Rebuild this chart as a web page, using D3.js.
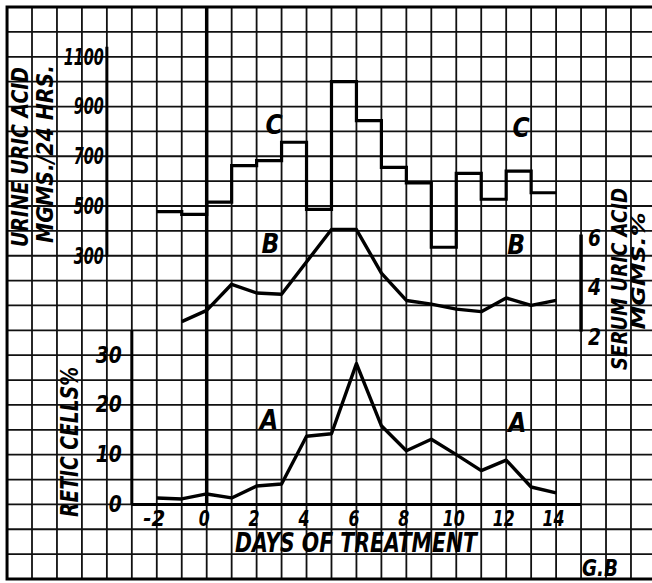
<!DOCTYPE html>
<html>
<head>
<meta charset="utf-8">
<script src="https://cdn.jsdelivr.net/npm/d3@7"></script>
<style>
  body { margin: 0; background: #fff; }
  svg text {
    font-family: 'DejaVu Sans Condensed', 'DejaVu Sans', sans-serif;
    font-weight: bold;
    font-style: oblique;
    fill: #000;
  }
</style>
</head>
<body>
<svg id="chart"></svg>
<script>
// A: reticulocytes (%), one reading per day
const reticDays = [-2, -1, 0, 1, 2, 3, 4, 5, 6, 7, 8, 9, 10, 11, 12, 13, 14];
const reticCells = [1.3, 1.1, 2.1, 1.3, 3.7, 4.1, 13.7, 14.2, 28.3, 15.8, 10.8, 13.1, 10.0, 6.8, 8.9, 3.5, 2.3];

// B: serum uric acid (mgms. %)
const serumDays = [-1, 0, 1, 2, 3, 5, 6, 7, 8, 9, 10, 11, 12, 13, 14];
const serumUric = [2.35, 2.8, 3.85, 3.5, 3.45, 6.05, 6.05, 4.3, 3.2, 3.05, 2.85, 2.75, 3.3, 3.0, 3.2];

// C: urine uric acid (mgms./24 hrs.), one 24h collection starting at each day
const urineDays = [-2, -1, 0, 1, 2, 3, 4, 5, 6, 7, 8, 9, 10, 11, 12, 13];
const urineUric = [477, 466, 515, 662, 682, 756, 486, 1000, 843, 655, 593, 334, 631, 527, 640, 553];
const urineLastDay = 14;

// tick labels
const dayTicks = [-2, 0, 2, 4, 6, 8, 10, 12, 14];
const reticTicks = [0, 10, 20, 30];
const serumTicks = [2, 4, 6];
const urineTicks = [300, 500, 700, 900, 1100];

class TreatmentChart {

    constructor(_config) {
        this.config = {
            parentElement: _config.parentElement,
            containerWidth: _config.containerWidth || 652,
            containerHeight: _config.containerHeight || 583
        }
        this.initVis();
    }

    initVis() {
        let vis = this;

        vis.svg = d3.select(vis.config.parentElement)
            .attr('width', vis.config.containerWidth)
            .attr('height', vis.config.containerHeight);

        // one grid column = one day
        vis.xScale = d3.scaleLinear().domain([0, 14]).range([206.7, 556.1]);
        // graph paper rows follow the retic scale (5 % per row)
        vis.yA = d3.scaleLinear().domain([0, 30]).range([504.4, 355.2]);
        vis.yB = d3.scaleLinear().domain([2, 6]).range([330.3, 230.8]);
        vis.yC = d3.scaleLinear().domain([300, 1100]).range([255.7, 56.7]);

        vis.gridG = vis.svg.append('g').attr('class', 'grid');
        vis.axisG = vis.svg.append('g').attr('class', 'axes');
        vis.dataG = vis.svg.append('g').attr('class', 'series');
        vis.labelG = vis.svg.append('g').attr('class', 'labels');
    }

    renderVis() {
        let vis = this;
        const x = vis.xScale, yA = vis.yA, yB = vis.yB, yC = vis.yC;
        const left = x(-8), top = yA(100), bottom = yA(-15), right = vis.config.containerWidth;

        // graph paper
        vis.gridG.selectAll('.vline')
            .data(d3.range(-7, 18))
            .join('line')
            .attr('class', 'vline')
            .attr('x1', d => x(d)).attr('x2', d => x(d))
            .attr('y1', top).attr('y2', bottom)
            .attr('stroke', '#111').attr('stroke-width', 1.8);

        vis.gridG.selectAll('.hline')
            .data(d3.range(-10, 100, 5))
            .join('line')
            .attr('class', 'hline')
            .attr('x1', left).attr('x2', right)
            .attr('y1', d => yA(d)).attr('y2', d => yA(d))
            .attr('stroke', '#111').attr('stroke-width', 1.8);

        // border
        vis.gridG.append('path')
            .attr('d', `M${right},${top}H${left}V${bottom}H${right}`)
            .attr('fill', 'none').attr('stroke', '#000').attr('stroke-width', 3);

        // axis lines
        const axisLines = [
            [x(-4), yC(1140), x(-4), yC(296), 3],
            [x(0), top, x(0), yA(0), 3.5],
            [x(-3), yA(35), x(-3), yA(0), 3],
            [x(-3), yA(0), x(15), yA(0), 3],
            [x(15), yB(5.85), x(15), yB(1.95), 3.5]
        ];
        vis.axisG.selectAll('.axis-line')
            .data(axisLines)
            .join('line')
            .attr('class', 'axis-line')
            .attr('x1', d => d[0]).attr('y1', d => d[1])
            .attr('x2', d => d[2]).attr('y2', d => d[3])
            .attr('stroke', '#000').attr('stroke-width', d => d[4]);

        // tick labels
        const styleTicks = (g, size, charW) => {
            g.select('.domain').remove();
            g.selectAll('.tick line').remove();
            g.selectAll('text')
                .attr('fill', '#000')
                .style('font-size', size + 'px')
                .attr('textLength', function() { return this.textContent.length * charW; })
                .attr('lengthAdjust', 'spacingAndGlyphs');
        };

        vis.axisG.append('g')
            .attr('transform', `translate(${x(-4) - 1},0)`)
            .call(d3.axisLeft(yC).tickValues(urineTicks).tickFormat(d => d).tickSize(0).tickPadding(2))
            .call(g => styleTicks(g, 23, 10));

        vis.axisG.append('g')
            .attr('transform', `translate(${x(-3) - 8},0)`)
            .call(d3.axisLeft(yA).tickValues(reticTicks).tickFormat(d => d).tickSize(0).tickPadding(2))
            .call(g => styleTicks(g, 23, 13))
            .selectAll('text').attr('dy', '0.3em');

        vis.axisG.append('g')
            .attr('transform', `translate(${x(15) + 5},7)`)
            .call(d3.axisRight(yB).tickValues(serumTicks).tickFormat(d => d).tickSize(0).tickPadding(2))
            .call(g => styleTicks(g, 23, 13));

        vis.axisG.append('g')
            .attr('transform', `translate(-3,${yA(0) + 5})`)
            .call(d3.axisBottom(x).tickValues(dayTicks).tickFormat(d => d).tickSize(0).tickPadding(2))
            .call(g => styleTicks(g, 21, 11));

        // series C: step line
        const urinePts = urineDays.map((d, i) => [d, urineUric[i]]);
        urinePts.push([urineLastDay, urineUric[urineUric.length - 1]]);
        vis.dataG.append('path')
            .datum(urinePts)
            .attr('fill', 'none').attr('stroke', '#000').attr('stroke-width', 3.2)
            .attr('stroke-linejoin', 'miter')
            .attr('d', d3.line().curve(d3.curveStepAfter).x(d => x(d[0])).y(d => yC(d[1])));

        // series B
        vis.dataG.append('path')
            .datum(serumDays.map((d, i) => [d, serumUric[i]]))
            .attr('fill', 'none').attr('stroke', '#000').attr('stroke-width', 3.4)
            .attr('stroke-linejoin', 'round')
            .attr('d', d3.line().x(d => x(d[0])).y(d => yB(d[1])));

        // series A
        vis.dataG.append('path')
            .datum(reticDays.map((d, i) => [d, reticCells[i]]))
            .attr('fill', 'none').attr('stroke', '#000').attr('stroke-width', 3.4)
            .attr('stroke-linejoin', 'round')
            .attr('d', d3.line().x(d => x(d[0])).y(d => yA(d[1])));

        // series letters
        const letters = [
            ['C', 2.7, yC(825)], ['C', 12.6, yC(815)],
            ['B', 2.55, yB(5.5)], ['B', 12.4, yB(5.45)],
            ['A', 2.5, yA(17)], ['A', 12.45, yA(16.4)]
        ];
        vis.labelG.selectAll('.letter')
            .data(letters)
            .join('text')
            .attr('class', 'letter')
            .attr('x', d => x(d[1])).attr('y', d => d[2])
            .attr('text-anchor', 'middle').attr('dy', '0.36em')
            .style('font-size', '26px')
            .text(d => d[0]);

        // axis titles
        const titles = [
            ['URINE URIC ACID', 20, 157, 180, 23, -90],
            ['MGMS./24 HRS.', 45, 154, 178, 23, -90],
            ['RETIC CELLS%', 69, 442, 150, 25, -90],
            ['SERUM URIC ACID', 619, 279, 182, 22, -90],
            ['MGMS.%', 638, 271, 117, 19, -90],
            ['DAYS OF TREATMENT', 356, 543, 242, 26, 0],
            ['G.B', 600, 568, 36, 23, 0]
        ];
        vis.labelG.selectAll('.title')
            .data(titles)
            .join('text')
            .attr('class', 'title')
            .attr('transform', d => `translate(${d[1]},${d[2]}) rotate(${d[5]})`)
            .attr('text-anchor', 'middle').attr('dy', '0.36em')
            .attr('textLength', d => d[3]).attr('lengthAdjust', 'spacingAndGlyphs')
            .style('font-size', d => d[4] + 'px')
            .text(d => d[0]);
    }
}

const chart = new TreatmentChart({ parentElement: '#chart' });
chart.renderVis();
</script>
</body>
</html>
